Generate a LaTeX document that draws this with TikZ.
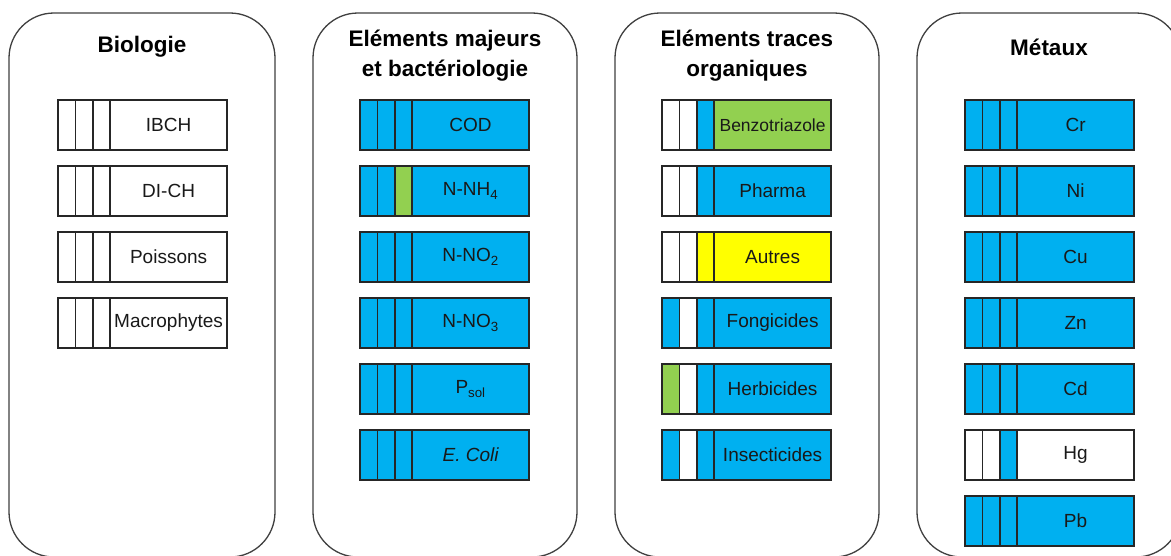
\documentclass[tikz,border=0pt]{standalone}
\usepackage{fontspec}
\setmainfont{Liberation Sans}
\definecolor{cblue}{HTML}{00B0F0}
\definecolor{cgreen}{HTML}{92D050}
\definecolor{cyellow}{HTML}{FFFF00}
\definecolor{edge}{HTML}{262626}
\definecolor{pedge}{HTML}{404040}
\newcommand\mrow[8]{%
  \node[cellbox, fill=#4, anchor=north west] (#1a) at (#2,-#3) {};
  \node[cellbox, fill=#5, anchor=north west] (#1b) at (#1a.north east) {};
  \node[cellbox, fill=#6, anchor=north west] (#1c) at (#1b.north east) {};
  \node[mainbox, fill=#7, anchor=north west] (#1d) at (#1c.north east) {#8};
}
\begin{document}
\begin{tikzpicture}[x=1pt,y=1pt,
  panel/.style={draw=pedge, line width=1.3pt, rounded corners=45pt, fill=white, outer sep=0pt},
  cellbox/.style={draw=edge, line width=1.5pt, minimum width=17.4pt, minimum height=50pt, inner sep=0pt, outer sep=0pt},
  mainbox/.style={draw=edge, line width=1.5pt, minimum width=116.8pt, minimum height=50pt, inner sep=0pt, outer sep=0pt, text=black!90, font=\fontsize{19}{21}\selectfont},
  ptitle/.style={font=\fontsize{22.5}{30}\selectfont\bfseries, align=center, text=black, inner sep=0pt}
]
\useasboundingbox (0,0) rectangle (1171,-555);
\fill[white] (0,0) rectangle (1171,-555);
% panels
\draw[panel] (9,-13) rectangle (275,-557);
\draw[panel] (313,-13) rectangle (577,-557);
\draw[panel] (615,-13) rectangle (879,-557);
\draw[panel] (917,-13) rectangle (1181,-557);
% titles
\node[ptitle] (t1) at (142,-47) {Biologie};
\node[ptitle] (t2) at (445,-56) {Eléments majeurs\\et bactériologie};
\node[ptitle] (t3) at (747,-56) {Eléments traces\\organiques};
\node[ptitle] (t4) at (1049,-47) {Métaux};
% panel 1
\mrow{ibch}{58}{100}{white}{white}{white}{white}{IBCH}
\mrow{dich}{58}{166}{white}{white}{white}{white}{DI-CH}
\mrow{pois}{58}{232}{white}{white}{white}{white}{Poissons}
\mrow{macr}{58}{298}{white}{white}{white}{white}{Macrophytes}
% panel 2
\mrow{cod}{360}{100}{cblue}{cblue}{cblue}{cblue}{COD}
\mrow{nnh}{360}{166}{cblue}{cblue}{cgreen}{cblue}{N-NH\textsubscript{4}}
\mrow{nnotwo}{360}{232}{cblue}{cblue}{cblue}{cblue}{N-NO\textsubscript{2}}
\mrow{nnothree}{360}{298}{cblue}{cblue}{cblue}{cblue}{N-NO\textsubscript{3}}
\mrow{psol}{360}{364}{cblue}{cblue}{cblue}{cblue}{P\textsubscript{sol}}
\mrow{ecol}{360}{430}{cblue}{cblue}{cblue}{cblue}{\itshape E. Coli}
% panel 3
\mrow{benz}{662}{100}{white}{white}{cblue}{cgreen}{\fontsize{17.5}{19}\selectfont Benzotriazole}
\mrow{phar}{662}{166}{white}{white}{cblue}{cblue}{Pharma}
\mrow{autr}{662}{232}{white}{white}{cyellow}{cyellow}{Autres}
\mrow{fong}{662}{298}{cblue}{white}{cblue}{cblue}{Fongicides}
\mrow{herb}{662}{364}{cgreen}{white}{cblue}{cblue}{Herbicides}
\mrow{inse}{662}{430}{cblue}{white}{cblue}{cblue}{Insecticides}
% panel 4
\mrow{cr}{965}{100}{cblue}{cblue}{cblue}{cblue}{Cr}
\mrow{ni}{965}{166}{cblue}{cblue}{cblue}{cblue}{Ni}
\mrow{cu}{965}{232}{cblue}{cblue}{cblue}{cblue}{Cu}
\mrow{zn}{965}{298}{cblue}{cblue}{cblue}{cblue}{Zn}
\mrow{cd}{965}{364}{cblue}{cblue}{cblue}{cblue}{Cd}
\mrow{hg}{965}{430}{white}{white}{cblue}{white}{Hg}
\mrow{pb}{965}{496}{cblue}{cblue}{cblue}{cblue}{Pb}
\end{tikzpicture}
\end{document}
